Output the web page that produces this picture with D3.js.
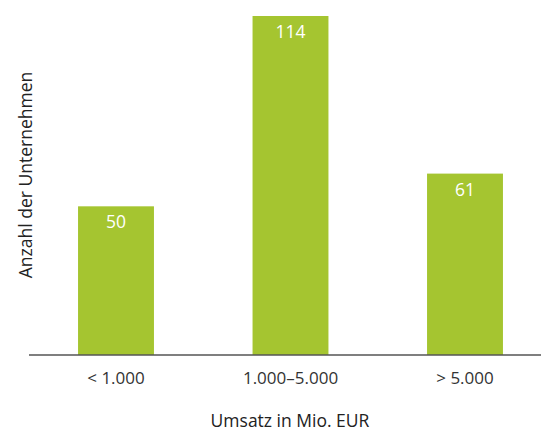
<!DOCTYPE html>
<html>
<head>
<meta charset="utf-8">
<script src="https://cdn.jsdelivr.net/npm/d3@7"></script>
<style>
  html, body { margin: 0; padding: 0; background: #fff; }
  svg { display: block; font-family: "Open Sans", "Noto Sans", sans-serif; }
</style>
</head>
<body>
<svg id="chart" width="541" height="431"></svg>
<script>
// Revenue classes and number of companies in each
const categories = ["< 1.000", "1.000–5.000", "> 5.000"];
const counts = [50, 114, 61];
const xTitle = "Umsatz in Mio. EUR";
const yTitle = "Anzahl der Unternehmen";

const svg = d3.select("#chart");
const baseY = 355;

const x = d3.scaleBand()
  .domain(categories)
  .range([28.75, 552.25])
  .paddingInner(0.565)
  .paddingOuter(0.2825);

const y = d3.scaleLinear()
  .domain([0, 114])
  .range([baseY, 16]);

// Bars
svg.append("g").selectAll("rect")
  .data(counts)
  .join("rect")
  .attr("x", (d, i) => x(categories[i]))
  .attr("y", d => y(d))
  .attr("width", x.bandwidth())
  .attr("height", d => baseY - y(d))
  .attr("fill", "#a5c530");

// Value labels inside bars
svg.append("g").selectAll("text")
  .data(counts)
  .join("text")
  .attr("x", (d, i) => x(categories[i]) + x.bandwidth() / 2)
  .attr("y", d => y(d) + 22)
  .attr("text-anchor", "middle")
  .attr("fill", "#fff")
  .attr("font-size", 17.5)
  .text(d => d);

// Category axis
const axis = svg.append("g")
  .attr("transform", `translate(0,${baseY})`)
  .call(d3.axisBottom(x).tickSize(0).tickPadding(17));
axis.select(".domain").remove();
axis.selectAll("text")
  .attr("font-size", 17)
  .attr("font-family", "\"Open Sans\", \"Noto Sans\", sans-serif")
  .attr("fill", "#333");

svg.append("line")
  .attr("x1", 29).attr("x2", 541)
  .attr("y1", baseY).attr("y2", baseY)
  .attr("stroke", "#555")
  .attr("stroke-width", 1.5);

// Axis titles
svg.append("text")
  .attr("x", 290)
  .attr("y", 427)
  .attr("text-anchor", "middle")
  .attr("font-size", 17.5)
  .attr("fill", "#222")
  .text(xTitle);

svg.append("text")
  .attr("transform", "translate(32,175) rotate(-90)")
  .attr("text-anchor", "middle")
  .attr("font-size", 17.5)
  .attr("fill", "#222")
  .text(yTitle);
</script>
</body>
</html>
